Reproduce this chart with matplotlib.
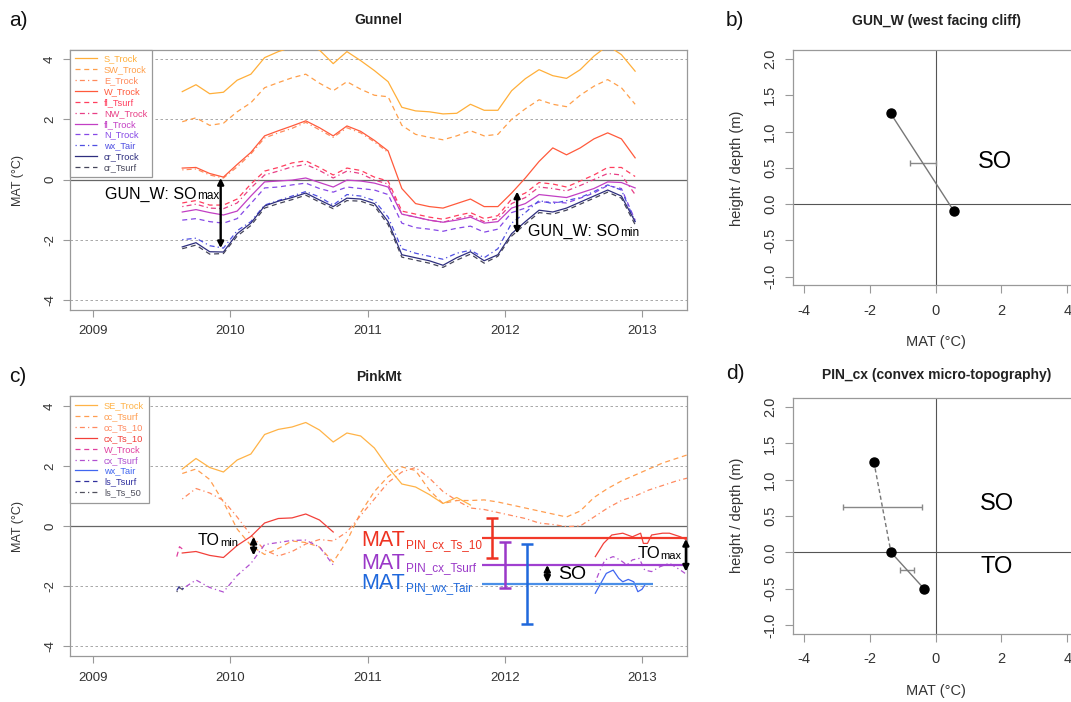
import matplotlib
matplotlib.use('Agg')
import matplotlib.pyplot as plt
from matplotlib.lines import Line2D

plt.rcParams['font.family'] = ['Liberation Sans', 'DejaVu Sans']
plt.rcParams['axes.unicode_minus'] = False

nan = float('nan')

# ---------------------------------------------------------------- data
# decimal-year sampling times of the running-mean series
t_grid = [2009.65, 2009.75, 2009.85, 2009.95, 2010.05, 2010.15, 2010.25, 2010.35, 2010.45, 2010.55,
          2010.65, 2010.75, 2010.85, 2010.95, 2011.05, 2011.15, 2011.25, 2011.35, 2011.45, 2011.55,
          2011.65, 2011.75, 2011.85, 2011.95, 2012.05, 2012.15, 2012.25, 2012.35, 2012.45, 2012.55,
          2012.65, 2012.75, 2012.85, 2012.95, 2013.05, 2013.15, 2013.25, 2013.35]
t_gun = t_grid[:34]

# Gunnel (panel a) MAT running means, degC
gun_labels = ['S_Trock', 'SW_Trock', 'E_Trock', 'W_Trock', 'fl_Tsurf', 'NW_Trock',
              'fl_Trock', 'N_Trock', 'wx_Tair', 'cr_Trock', 'cr_Tsurf']
S_Trock = [2.92, 3.15, 2.85, 2.90, 3.30, 3.50, 4.05, 4.25, 4.40, 4.45, 4.30, 3.85, 4.25, 3.95, 3.62, 3.25,
           2.40, 2.28, 2.25, 2.18, 2.20, 2.50, 2.30, 2.30, 2.95, 3.35, 3.65, 3.45, 3.36, 3.65, 4.10, 4.45,
           4.15, 3.60]
SW_Trock = [1.92, 2.05, 1.80, 1.87, 2.25, 2.55, 3.05, 3.22, 3.38, 3.50, 3.20, 2.95, 3.25, 3.00, 2.80, 2.75,
            1.80, 1.50, 1.40, 1.32, 1.45, 1.62, 1.45, 1.50, 2.00, 2.35, 2.65, 2.50, 2.42, 2.80, 3.10, 3.32,
            3.05, 2.50]
E_Trock = [0.32, 0.35, 0.15, 0.05, 0.42, 0.85, 1.38, 1.55, 1.70, 1.90, 1.65, 1.40, 1.72, 1.55, 1.25, 0.90,
           nan, nan, nan, nan, nan, nan, nan, nan, nan, nan, nan, nan, nan, nan, nan, nan, nan, nan]
W_Trock = [0.38, 0.40, 0.20, 0.08, 0.50, 0.90, 1.45, 1.62, 1.78, 1.95, 1.72, 1.45, 1.78, 1.60, 1.30, 0.95,
           -0.30, -0.80, -0.90, -0.95, -0.80, -0.65, -0.90, -0.90, -0.45, 0.05, 0.60, 1.05, 0.82, 1.05, 1.35,
           1.55, 1.35, 0.72]
fl_Tsurf = [-0.78, -0.70, -0.85, -0.85, -0.65, -0.15, 0.28, 0.40, 0.55, 0.62, 0.40, 0.15, 0.38, 0.30, 0.08,
            -0.05, -1.05, -1.15, -1.25, -1.32, -1.20, -1.10, -1.30, -1.20, -0.65, -0.45, -0.10, -0.15, -0.25,
            -0.05, 0.15, 0.40, 0.40, 0.10]
NW_Trock = [-0.90, -0.82, -0.95, -0.97, -0.78, -0.28, 0.15, 0.28, 0.42, 0.50, 0.30, 0.05, 0.28, 0.20, -0.02,
            -0.15, -1.15, -1.25, -1.35, -1.42, -1.30, -1.20, -1.40, -1.30, -0.80, -0.60, -0.25, -0.30, -0.38,
            -0.20, 0.00, 0.20, 0.15, -0.50]
fl_Trock = [-1.08, -1.00, -1.10, -1.18, -1.05, -0.55, -0.08, -0.05, -0.02, 0.05, -0.10, -0.25, -0.02, -0.05,
            -0.12, -0.25, -1.15, -1.25, -1.35, -1.42, -1.35, -1.25, -1.45, -1.40, -0.95, -0.80, -0.50, -0.55,
            -0.60, -0.45, -0.30, -0.08, -0.10, -0.28]
N_Trock = [-1.35, -1.30, -1.40, -1.45, -1.30, -0.80, -0.28, -0.25, -0.18, -0.12, -0.30, -0.42, -0.25, -0.30,
           -0.35, -0.50, -1.45, -1.60, -1.65, -1.72, -1.62, -1.55, -1.75, -1.65, -1.10, -0.95, -0.75, -0.75,
           -0.78, -0.62, -0.45, -0.20, -0.30, -1.35]
wx_Tair_gun = [-2.00, -1.95, -2.20, -2.28, -1.70, -1.40, -0.85, -0.70, -0.55, -0.40, -0.58, -0.85, -0.50,
               -0.55, -0.70, -1.25, -2.30, -2.45, -2.55, -2.65, -2.45, -2.35, -2.60, -2.30, -1.45, -1.10,
               -0.70, -0.80, -0.70, -0.60, -0.40, -0.18, -0.35, -1.40]
cr_Trock = [-2.24, -2.10, -2.40, -2.41, -1.80, -1.45, -0.88, -0.72, -0.60, -0.45, -0.68, -0.90, -0.62, -0.65,
            -0.80, -1.40, -2.50, -2.60, -2.70, -2.85, -2.60, -2.40, -2.70, -2.50, -1.80, -1.40, -1.02, -1.08,
            -0.95, -0.75, -0.55, -0.35, -0.55, -1.40]
cr_Tsurf = [-2.30, -2.18, -2.48, -2.46, -1.88, -1.53, -0.95, -0.80, -0.67, -0.52, -0.75, -0.97, -0.70, -0.72,
            -0.88, -1.50, -2.58, -2.68, -2.78, -2.92, -2.68, -2.48, -2.78, -2.55, -1.88, -1.48, -1.10, -1.15,
            -1.02, -0.82, -0.62, -0.42, -0.62, -1.50]
gun_series = [S_Trock, SW_Trock, E_Trock, W_Trock, fl_Tsurf, NW_Trock, fl_Trock, N_Trock,
              wx_Tair_gun, cr_Trock, cr_Tsurf]

# PinkMt (panel c) MAT running means, degC
pin_labels = ['SE_Trock', 'cc_Tsurf', 'cc_Ts_10', 'cx_Ts_10', 'W_Trock', 'cx_Tsurf',
              'wx_Tair', 'ls_Tsurf', 'ls_Ts_50']
SE_Trock = [1.90, 2.25, 1.95, 1.80, 2.20, 2.40, 3.05, 3.22, 3.30, 3.45, 3.20, 2.80, 3.10, 3.00, 2.60, 1.95,
            1.40, 1.30, 1.05, 0.75, 0.95, 0.70, nan, nan, nan, nan, nan, nan, nan, nan, nan, nan, nan, nan,
            nan, nan, nan, nan]
cc_Tsurf = [1.75, 1.90, 1.55, 0.80, -0.10, -0.65, -0.95, -0.75, -0.50, -0.55, -0.70, -1.20, -0.50, 0.45,
            1.15, 1.65, 1.97, 1.85, 1.20, 0.75, 0.85, 0.85, 0.87, 0.80, 0.70, 0.60, 0.50, 0.40, 0.30, 0.50,
            0.95, 1.25, 1.50, 1.70, 1.90, 2.10, 2.25, 2.40]
cc_Ts_10 = [0.90, 1.25, 1.10, 0.85, 0.30, -0.30, -0.80, -1.00, -0.85, -0.60, -0.45, -0.50, -0.20, 0.35,
            0.90, 1.45, 1.80, 1.95, 1.60, 1.15, 0.85, 0.60, 0.55, 0.45, 0.35, 0.25, 0.10, 0.05, -0.02, 0.00,
            0.30, 0.60, 0.85, 1.00, 1.20, 1.35, 1.50, 1.62]
cx_Ts_10 = [-0.90, -0.85, -0.98, -1.05, -0.65, -0.35, 0.10, 0.25, 0.27, 0.40, 0.20, -0.20, nan, nan, nan,
            nan, nan, nan, nan, nan, nan, nan, nan, nan, nan, nan, nan, nan, nan, nan, nan, nan, nan, nan,
            nan, nan, nan, nan]
cx_Tsurf = [-2.10, -1.80, -2.05, -2.20, -1.65, -1.25, -0.62, -0.55, -0.48, -0.47, -0.70, -1.30, nan, nan,
            nan, nan, nan, nan, nan, nan, nan, nan, nan, nan, nan, nan, nan, nan, nan, nan, nan, nan, nan,
            nan, nan, nan, nan, nan]
# second (late) segments of the cx / wx loggers
t_cx_late = [2012.66, 2012.72, 2012.78, 2012.86, 2012.93, 2012.99, 2013.01, 2013.04, 2013.07, 2013.15,
             2013.20, 2013.28, 2013.33]
cx_Ts_10_late = [-1.02, -0.58, -0.30, -0.24, -0.36, -0.24, -0.58, -0.58, -0.30, -0.24, -0.24, -0.36, -0.47]
t_cxs_late = [2012.66, 2012.69, 2012.73, 2012.79, 2012.84, 2012.89, 2012.93, 2012.98, 2013.02, 2013.07,
              2013.13, 2013.20, 2013.28, 2013.33]
cx_Tsurf_late = [-1.86, -1.52, -1.13, -1.02, -1.13, -1.30, -1.13, -1.08, -1.47, -1.52, -1.36, -1.24,
                 -1.47, -1.63]
t_wx_late = [2012.66, 2012.70, 2012.74, 2012.79, 2012.83, 2012.86, 2012.90, 2012.94, 2012.97, 2013.00,
             2013.02]
wx_Tair_late = [-2.24, -1.91, -1.58, -1.47, -1.74, -1.86, -1.78, -1.86, -2.19, -2.11, -1.97]
# short records at the start
t_short = [2009.61, 2009.63, 2009.66]
W_Trock_pin = [-1.02, -0.69, -0.80]
ls_Tsurf = [-2.15, -2.00, -2.10]
ls_Ts_50 = [-2.20, -2.05, -2.15]

# mean annual temperature (MAT) +/- sd at PIN
mat_names = ['PIN_cx_Ts_10', 'PIN_cx_Tsurf', 'PIN_wx_Tair']
mat_values = [-0.41, -1.30, -1.92]
mat_sd = [0.67, 0.78, 1.33]
mat_bar_t = [2011.91, 2012.00, 2012.16]

# profile panels: MAT vs height / depth
gun_mat = [-1.36, 0.56]
gun_height = [1.25, -0.10]
gun_so_center, gun_so_err, gun_so_height = -0.39, 0.39, 0.57
pin_mat = [-1.87, -1.35, -0.35]
pin_height = [1.25, 0.00, -0.50]
pin_err_center = [-1.61, -0.87]
pin_err = [1.19, 0.21]
pin_err_height = [0.63, -0.24]

# ---------------------------------------------------------------- styles
gun_colors = ['#FFAF3A', '#FF9F4A', '#FF8A5C', '#FF5A3C', '#FF3E5E', '#E83F86',
              '#C23FC4', '#8648E6', '#4F4FE2', '#2E2E7E', '#45455A']
gun_styles = ['-', (0, (4, 3)), (0, (1, 2.5, 4, 2.5)), '-', (0, (4, 3)), (0, (1, 2.5, 4, 2.5)),
              '-', (0, (4, 3)), (0, (1, 2.5, 4, 2.5)), '-', (0, (4, 3))]
pin_colors = ['#FFB347', '#FF9E50', '#FF8A60', '#F2403A', '#E040A0', '#B050D0',
              '#4066F0', '#30309E', '#50505E']
pin_styles = ['-', (0, (4, 3)), (0, (1, 2.5, 4, 2.5)), '-', (0, (4, 3)), (0, (1, 2.5, 4, 2.5)),
              '-', (0, (4, 3)), (0, (1, 2.5, 4, 2.5))]
mat_colors = ['#EE3322', '#9A38C8', '#1F68DC']
mat_line_colors = ['#F23A2A', '#A040D0', '#4A8FE8']

W, H = 1071, 702
fig = plt.figure(figsize=(W / 100, H / 100), dpi=100)


def box(l, t, r, b):
    return [l / W, 1 - b / H, (r - l) / W, (b - t) / H]


def ftxt(px, py, s, **kw):
    fig.text(px / W, 1 - py / H, s, **kw)


GRAY = '#999999'
TXT = '#333333'


def style_ts(ax):
    ax.set_xlim(2008.832, 2013.328)
    ax.set_ylim(-4.32, 4.32)
    for sp in ax.spines.values():
        sp.set_color(GRAY)
        sp.set_linewidth(0.9)
    ax.set_xticks([2009, 2010, 2011, 2012, 2013])
    ax.set_xticklabels(['2009', '2010', '2011', '2012', '2013'])
    ax.set_yticks([-4, -2, 0, 2, 4])
    ax.set_yticklabels(['-4', '-2', '0', '2', '4'], rotation=90, va='center')
    ax.tick_params(length=5, width=0.8, color=GRAY, labelsize=9.5, labelcolor=TXT)
    ax.tick_params(axis='x', pad=6.5)
    ax.tick_params(axis='y', pad=5)
    for y in [4, 2, -2, -4]:
        ax.axhline(y, color='#9a9a9a', lw=0.6, ls=(0, (3, 3)), zorder=1)
    ax.axhline(0, color='#666666', lw=0.9, zorder=1)


def style_prof(ax):
    ax.set_xlim(-4.32, 4.32)
    ax.set_ylim(-1.12, 2.12)
    for sp in ax.spines.values():
        sp.set_color(GRAY)
        sp.set_linewidth(0.9)
    ax.set_xticks([-4, -2, 0, 2, 4])
    ax.set_xticklabels(['-4', '-2', '0', '2', '4'])
    ax.set_yticks([-1.0, -0.5, 0.0, 0.5, 1.0, 1.5, 2.0])
    ax.set_yticklabels(['-1.0', '-0.5', '0.0', '0.5', '1.0', '1.5', '2.0'], rotation=90, va='center')
    ax.tick_params(length=5.5, width=0.8, color=GRAY, labelsize=10.5, labelcolor=TXT)
    ax.tick_params(axis='x', pad=8)
    ax.tick_params(axis='y', pad=6)
    ax.axvline(0, color='#555555', lw=0.8, zorder=1)
    ax.axhline(0, color='#555555', lw=0.8, zorder=1)


def legend(ax, labels, colors, styles):
    handles = [Line2D([], [], color=c, ls=s, lw=0.9) for c, s in zip(colors, styles)]
    lg = ax.legend(handles, labels, loc='upper left', bbox_to_anchor=(0, 1), borderaxespad=0,
                   frameon=True, fancybox=False, edgecolor=GRAY, framealpha=1, fontsize=6.7,
                   handlelength=2.3, labelspacing=0.2, borderpad=0.55, handletextpad=0.8,
                   labelcolor='linecolor')
    lg.get_frame().set_linewidth(0.9)
    lg.set_zorder(5)


def dbl_arrow(ax, x, y0, y1, lw=1.7):
    ax.annotate('', xy=(x, y0), xytext=(x, y1),
                arrowprops=dict(arrowstyle='<|-|>', color='black', lw=lw, mutation_scale=9,
                                shrinkA=0, shrinkB=0), zorder=6)


def sub_text(ax, x, y, main, sub, size, subsize, color='black', va='center'):
    t = ax.text(x, y, main, fontsize=size, color=color, ha='left', va=va, zorder=7)
    ax.annotate(sub, xy=(1, 0), xycoords=t, xytext=(0.6, 0), textcoords='offset points',
                fontsize=subsize, color=color, ha='left', va='bottom', zorder=7)
    return t


# ---------------------------------------------------------------- panel a
ax_a = fig.add_axes(box(70, 49.5, 687, 309.5))
style_ts(ax_a)
for vals, c, s in zip(gun_series, gun_colors, gun_styles):
    ax_a.plot(t_gun, vals, color=c, ls=s, lw=0.9, zorder=3)
legend(ax_a, gun_labels, gun_colors, gun_styles)
dbl_arrow(ax_a, 2009.93, 0.05, -2.28)
sub_text(ax_a, 2009.085, -0.50, 'GUN_W: SO', 'max', 11.5, 8.5)
dbl_arrow(ax_a, 2012.09, -0.40, -1.80)
sub_text(ax_a, 2012.17, -1.73, 'GUN_W: SO', 'min', 11.5, 8.5)

# ---------------------------------------------------------------- panel c
ax_c = fig.add_axes(box(70, 396.4, 687, 655.6))
style_ts(ax_c)
pin_series = [SE_Trock, cc_Tsurf, cc_Ts_10, cx_Ts_10, None, cx_Tsurf, None, None, None]
for vals, c, s in zip(pin_series, pin_colors, pin_styles):
    if vals is not None:
        ax_c.plot(t_grid, vals, color=c, ls=s, lw=0.9, zorder=3)
ax_c.plot(t_cx_late, cx_Ts_10_late, color=pin_colors[3], ls=pin_styles[3], lw=0.9, zorder=3)
ax_c.plot(t_cxs_late, cx_Tsurf_late, color=pin_colors[5], ls=pin_styles[5], lw=0.9, zorder=3)
ax_c.plot(t_wx_late, wx_Tair_late, color=pin_colors[6], ls=pin_styles[6], lw=0.9, zorder=3)
ax_c.plot(t_short, W_Trock_pin, color=pin_colors[4], ls=pin_styles[4], lw=0.9, zorder=3)
ax_c.plot(t_short, ls_Tsurf, color=pin_colors[7], ls=pin_styles[7], lw=0.9, zorder=3)
ax_c.plot(t_short, ls_Ts_50, color=pin_colors[8], ls=pin_styles[8], lw=0.9, zorder=3)
legend(ax_c, pin_labels, pin_colors, pin_styles)

# MAT lines and sd bars
mat_line_end = [2013.328, 2013.328, 2013.08]
for v, c, e in zip(mat_values, mat_line_colors, mat_line_end):
    ax_c.plot([2011.832, e], [v, v], color=c, lw=1.6, zorder=4, solid_capstyle='butt')
for tb, v, sd, c in zip(mat_bar_t, mat_values, mat_sd, mat_colors):
    ax_c.errorbar([tb], [v], yerr=[sd], color=c, lw=1.8, capsize=4.2, capthick=1.8, zorder=4)
mat_baselines = [-0.66, -1.44, -2.09]
for name, c, yb in zip(mat_names, mat_colors, mat_baselines):
    sub_text(ax_c, 2010.955, yb, 'MAT', name, 15.5, 8.5, color=c, va='baseline')

dbl_arrow(ax_c, 2012.31, -1.30, -1.89)
ax_c.text(2012.39, -1.63, 'SO', fontsize=14, va='center', ha='left', zorder=7)
dbl_arrow(ax_c, 2013.32, -0.43, -1.52)
sub_text(ax_c, 2012.965, -0.91, 'TO', 'max', 12, 8)
dbl_arrow(ax_c, 2010.17, -0.36, -0.98)
sub_text(ax_c, 2009.765, -0.47, 'TO', 'min', 11.5, 8)

# ---------------------------------------------------------------- panel b
ax_b = fig.add_axes(box(793, 50.3, 1078, 285.2))
style_prof(ax_b)
ax_b.errorbar([gun_so_center], [gun_so_height], xerr=[gun_so_err], color='#888888', lw=1.0,
              capsize=2.5, capthick=1.0, zorder=3)
ax_b.plot(gun_mat, gun_height, color='#777777', lw=1.0, zorder=3)
ax_b.plot(gun_mat, gun_height, 'o', color='black', ms=6.5, zorder=4)
ax_b.text(1.8, 0.58, 'SO', fontsize=17, ha='center', va='center')

# ---------------------------------------------------------------- panel d
ax_d = fig.add_axes(box(793, 398.4, 1078, 633.6))
style_prof(ax_d)
ax_d.errorbar(pin_err_center, pin_err_height, xerr=pin_err, fmt='none', ecolor='#888888',
              elinewidth=1.0, capsize=2.5, capthick=1.0, zorder=3)
ax_d.plot(pin_mat[:2], pin_height[:2], color='#777777', lw=1.0, ls=(0, (3, 2)), zorder=3)
ax_d.plot(pin_mat[1:], pin_height[1:], color='#777777', lw=1.0, zorder=3)
ax_d.plot(pin_mat, pin_height, 'o', color='black', ms=6.5, zorder=4)
ax_d.text(1.85, 0.67, 'SO', fontsize=17, ha='center', va='center')
ax_d.text(1.85, -0.20, 'TO', fontsize=17, ha='center', va='center')

# ---------------------------------------------------------------- figure texts
ftxt(378.5, 20, 'Gunnel', fontsize=10, fontweight='bold', ha='center', va='center', color='#222')
ftxt(378.5, 377, 'PinkMt', fontsize=10, fontweight='bold', ha='center', va='center', color='#222')
ftxt(937, 21, 'GUN_W (west facing cliff)', fontsize=10, fontweight='bold', ha='center', va='center',
     color='#222')
ftxt(937, 375, 'PIN_cx (convex micro-topography)', fontsize=10, fontweight='bold', ha='center',
     va='center', color='#222')
for px, py, s in [(18, 21, 'a)'), (735, 21, 'b)'), (18, 376, 'c)'), (735, 374, 'd)')]:
    ftxt(px, py, s, fontsize=15, ha='center', va='center', color='#111')
ftxt(18, 180, 'MAT (°C)', fontsize=9, rotation=90, ha='center', va='center', color=TXT)
ftxt(18, 526, 'MAT (°C)', fontsize=9, rotation=90, ha='center', va='center', color=TXT)
ftxt(737, 168, 'height / depth (m)', fontsize=10.5, rotation=90, ha='center', va='center', color=TXT)
ftxt(737, 515, 'height / depth (m)', fontsize=10.5, rotation=90, ha='center', va='center', color=TXT)
ftxt(936, 342, 'MAT (°C)', fontsize=10.5, ha='center', va='center', color=TXT)
ftxt(936, 691, 'MAT (°C)', fontsize=10.5, ha='center', va='center', color=TXT)

fig.savefig('out.png', dpi=100)
